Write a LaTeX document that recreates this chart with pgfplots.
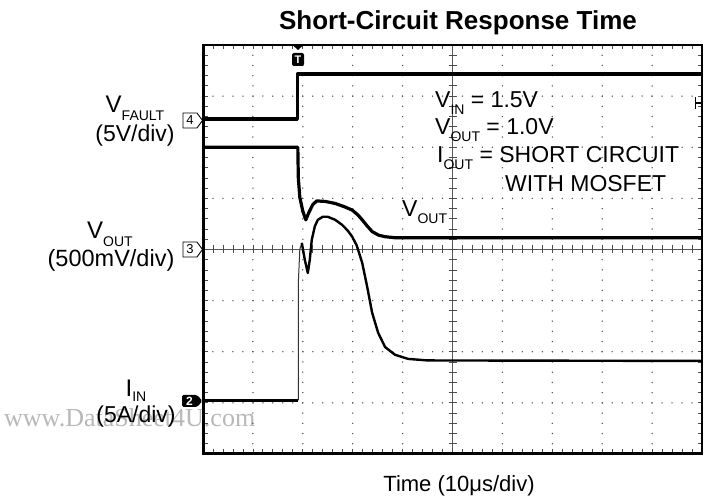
\documentclass[border=0pt]{standalone}
\usepackage{pgfplots}
\pgfplotsset{compat=1.18}
\usepackage{fontspec}
\setmainfont{Liberation Sans}
\newfontfamily\wmfont{Liberation Serif}

% channel subscript: small and dropped below the baseline
\newcommand\sub[2][7bp]{\raisebox{-#1}{\fontsize{14bp}{14bp}\selectfont #2}}

\begin{document}
\begin{tikzpicture}[x=1bp,y=1bp]
\useasboundingbox (0,0) rectangle (707,504);

% watermark
\node[anchor=base west, text=black!28, inner sep=0] at (4,77)
  {\wmfont\fontsize{26bp}{26bp}\selectfont www.DataSheet4U.com};

% ---- graticule: 10 x 8 divisions, 49.9bp x 51.125bp each ----
\foreach \i in {1,2,3,4,6,7,8,9}
  \foreach \k in {1,...,39}
    \fill[black!70] ({203+49.9*\i},{50+10.225*\k}) circle[radius=0.75];
\foreach \j in {1,2,3,5,6,7}
  \foreach \k in {1,...,49}
    \fill[black!70] ({203+9.98*\k},{50+51.125*\j}) circle[radius=0.75];
% centre cross with minor ticks
\draw[black!65, line width=0.8] (203,254.5) -- (702,254.5);
\draw[black!65, line width=0.8] (452.5,50) -- (452.5,459);
\foreach \k in {1,...,49} {
  \draw[black!70, line width=0.8] ({203+9.98*\k},250.5) -- ({203+9.98*\k},258.5);
  \draw[black!70, line width=0.8] ({203+9.98*\k},50) -- ({203+9.98*\k},54.5);
  \draw[black!70, line width=0.8] ({203+9.98*\k},459) -- ({203+9.98*\k},454.5);
}
\foreach \k in {1,...,39} {
  \draw[black!70, line width=0.8] (448.5,{50+10.225*\k}) -- (456.5,{50+10.225*\k});
  \draw[black!70, line width=0.8] (203,{50+10.225*\k}) -- (207.5,{50+10.225*\k});
  \draw[black!70, line width=0.8] (702,{50+10.225*\k}) -- (697.5,{50+10.225*\k});
}
% frame
\draw[line width=2] (203,50) rectangle (702,459);
\draw[line width=3.5] (203.5,48.5) -- (203.5,460);
\draw[line width=3] (202,50.5) -- (703,50.5);

% ---- traces ----
\begin{axis}[at={(203bp,50bp)}, anchor=south west, width=499bp, height=409bp,
  scale only axis, xmin=0, xmax=10, ymin=0, ymax=8, hide axis, clip=true]
% channel 4: V_FAULT
\addplot[line width=3.4bp, line join=round, black] coordinates {
  (0,6.55) (1.89,6.55) (1.89,7.43) (10,7.43)};
% channel 3: V_OUT
\addplot[line width=3.2bp, line join=round, black] coordinates {
  (0,6.00) (1.90,6.00) (1.91,5.40) (1.94,5.02) (2.00,4.75) (2.06,4.58)
  (2.12,4.72) (2.20,4.88) (2.28,4.95) (2.45,4.94) (2.65,4.90) (2.85,4.83)
  (2.99,4.77) (3.10,4.68) (3.19,4.58) (3.29,4.46) (3.39,4.35) (3.52,4.28)
  (3.65,4.25) (3.85,4.23) (10,4.23)};
% channel 2: I_IN (fast edge drawn thin)
\addplot[line width=3.4bp, black] coordinates {(0,1.05) (1.91,1.05)};
\addplot[line width=1bp, black!80] coordinates {
  (1.91,1.05) (1.91,3.34) (1.94,4.00) (1.98,4.13)};
\addplot[line width=2.4bp, line join=round, black] coordinates {
  (1.98,4.13) (2.04,3.80) (2.10,3.54) (2.14,3.80) (2.18,4.19) (2.24,4.45)
  (2.30,4.58) (2.40,4.64) (2.50,4.64) (2.65,4.58) (2.79,4.48) (2.90,4.37)
  (2.99,4.25) (3.08,4.08) (3.19,3.74) (3.29,3.27) (3.39,2.76) (3.51,2.37)
  (3.65,2.09) (3.85,1.94) (4.11,1.86) (4.50,1.83) (10,1.82)};
\end{axis}

% ---- channel reference markers ----
\draw[line width=0.9, fill=white] (183,391) -- (197,391) -- (202.5,383.5) -- (197,376) -- (183,376) -- cycle;
\node[inner sep=0] at (190,383.5) {\fontsize{13bp}{13bp}\selectfont 4};
\draw[line width=0.9, fill=white] (183,262) -- (197,262) -- (202.5,254.5) -- (197,247) -- (183,247) -- cycle;
\node[inner sep=0] at (190,254.5) {\fontsize{13bp}{13bp}\selectfont 3};
\fill[rounded corners=1.5] (182,109) -- (197,109) -- (202.5,103) -- (197,97) -- (182,97) -- cycle;
\node[inner sep=0, text=white] at (189.5,103) {\fontsize{12bp}{12bp}\selectfont\bfseries 2};
% trigger position
\fill (292.5,459) -- (303.5,459) -- (298,454) -- cycle;
\fill[rounded corners=2] (292,438) rectangle (304,451);
\node[inner sep=0, text=white] at (298,444.5) {\fontsize{11bp}{11bp}\selectfont\bfseries T};
% trigger level
\draw[line width=1.2] (695.5,395) -- (695.5,407);
\draw[line width=1.2] (695.5,401) -- (701,401);

% ---- text ----
\node[anchor=base, inner sep=0] at (458,474)
  {\fontsize{26bp}{30bp}\selectfont\bfseries Short-Circuit Response Time};
\node[anchor=base, inner sep=0] at (459,12)
  {\fontsize{22bp}{26bp}\selectfont Time (10μs/div)};

\begin{scope}[every node/.style={anchor=base, inner sep=0}]
\node at (135,391) {\fontsize{24bp}{28bp}\selectfont V\sub[8bp]{FAULT}};
\node at (135,362) {\fontsize{23bp}{26bp}\selectfont (5V/div)};
\node at (110,265) {\fontsize{24bp}{28bp}\selectfont V\sub[8bp]{OUT}};
\node at (111,237) {\fontsize{23.5bp}{26bp}\selectfont (500mV/div)};
\node at (136,107) {\fontsize{24bp}{28bp}\selectfont I\sub[5bp]{IN}};
\node at (136,81) {\fontsize{23bp}{26bp}\selectfont (5A/div)};
\end{scope}

\begin{scope}[every node/.style={anchor=base west, inner sep=0}]
\node at (435,396) {\fontsize{23bp}{27bp}\selectfont V\sub{IN} = 1.5V};
\node at (435,369) {\fontsize{23bp}{27bp}\selectfont V\sub{OUT} = 1.0V};
\node at (437,341) {\fontsize{23bp}{27bp}\selectfont I\sub{OUT} = SHORT CIRCUIT};
\node at (505,312) {\fontsize{23bp}{27bp}\selectfont WITH MOSFET};
\node at (402,287) {\fontsize{23bp}{27bp}\selectfont V\sub{OUT}};
\end{scope}
\end{tikzpicture}
\end{document}
